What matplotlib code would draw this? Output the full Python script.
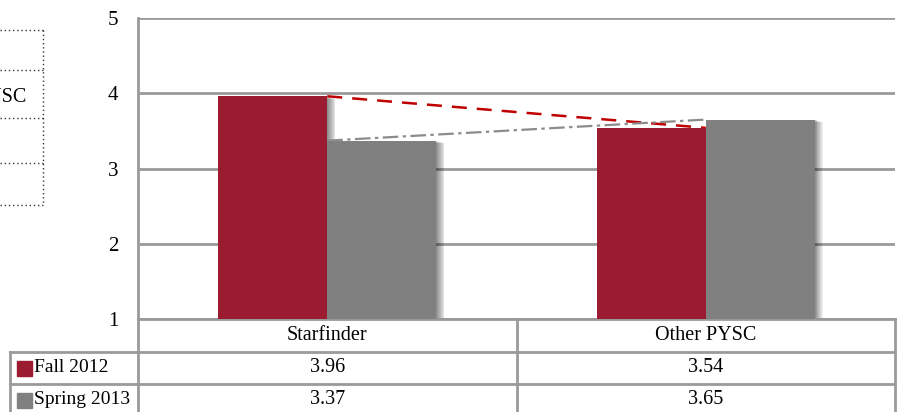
import matplotlib
matplotlib.use("Agg")
from matplotlib import pyplot as plt
from matplotlib.patches import Rectangle
import numpy as np

categories = ["Starfinder", "Other PYSC"]
series_names = ["Fall 2012", "Spring 2013"]
fall = [3.96, 3.54]
spring = [3.37, 3.65]
yticks = [1, 2, 3, 4, 5]

red = "#9b1b30"
grey = "#808080"
linec = "#9a9a9a"

plt.rcParams['font.family'] = ['Liberation Serif', 'DejaVu Serif']
plt.rcParams['font.size'] = 14

W, H = 899, 412
fig = plt.figure(figsize=(W / 100, H / 100), dpi=100)
ax = fig.add_axes([138 / W, (H - 319) / H, (895 - 138) / W, (319 - 18) / H])

x = np.arange(len(categories))
bw = 0.288
px = 2 / (895 - 138)  # one pixel in x data units

# soft shadows behind bars
for off in range(1, 10):
    for vals, sh in ((fall, -bw / 2), (spring, bw / 2)):
        for xi, v in zip(x, vals):
            ax.add_patch(Rectangle((xi + sh - bw / 2 + off * 0.0006, 1),
                                   bw + off * 0.0018, v - 1 - off * 0.004,
                                   color="black", alpha=0.06, lw=0, zorder=1.5))

ax.bar(x - bw / 2, np.array(fall) - 1, bw, bottom=1, color=red, zorder=3)
ax.bar(x + bw / 2, np.array(spring) - 1, bw, bottom=1, color=grey, zorder=3)

# series lines
ax.plot(x, fall, color="#c00000", lw=1.8, ls=(0, (6, 4)), zorder=2)
ax.plot(x, spring, color="#8c8c8c", lw=1.6, ls=(0, (7, 2, 1.5, 2)), zorder=2)

ax.set_xlim(-0.5, 1.5)
ax.set_ylim(1, 5)
ax.set_yticks(yticks)
ax.set_xticks([])
ax.tick_params(axis="y", length=0, pad=14, labelsize=15)
ax.yaxis.grid(True, color=linec, lw=2)
ax.set_axisbelow(True)
for s in ["top", "right", "bottom"]:
    ax.spines[s].set_visible(False)
ax.spines["left"].set_color(linec)
ax.spines["left"].set_linewidth(2)

# data table under the plot
tr = ax.get_xaxis_transform()
ph = 319 - 18
rows = [0, -(352 - 319) / ph, -(384 - 319) / ph, -(416 - 319) / ph]
left = -0.5 - (138 - 10) * px
kw = dict(color=linec, lw=2, transform=tr, clip_on=False)
ax.plot([-0.5, 1.5], [rows[0], rows[0]], **kw)
for r in rows[1:3]:
    ax.plot([left, 1.5], [r, r], **kw)
for xv in [-0.5, 0.5, 1.5]:
    ax.plot([xv, xv], [rows[0], rows[3]], **kw)
ax.plot([left, left], [rows[1], rows[3]], **kw)

for xi, c in zip(x, categories):
    ax.text(xi, (rows[0] + rows[1]) / 2, c, transform=tr, ha="center", va="center", fontsize=14.5)
sq = 15 / ph
for i, (name, vals, col) in enumerate(zip(series_names, [fall, spring], [red, grey])):
    yc = (rows[i + 1] + rows[i + 2]) / 2
    ax.add_patch(Rectangle((left + 7 * px, yc - sq / 2), 15 * px, sq, color=col,
                           transform=tr, clip_on=False))
    ax.text(left + 24 * px, yc, name, transform=tr, ha="left", va="center", fontsize=14)
    for xi, v in zip(x, vals):
        ax.text(xi, yc, f"{v:.2f}", transform=tr, ha="center", va="center", fontsize=14.5)

# cut-off neighbouring table at left edge
ys = [30, 70, 118, 163, 205]
for yy in ys:
    fig.add_artist(plt.Line2D([0, 43 / W], [1 - yy / H] * 2, color="#333333", lw=1, ls=(0, (1, 2))))
fig.add_artist(plt.Line2D([43 / W] * 2, [1 - 30 / H, 1 - 205 / H], color="#333333", lw=1, ls=(0, (1, 2))))
fig.text(26 / W, 1 - 97 / H, "Other PYSC", ha="right", va="center", fontsize=14.5)

fig.savefig("out.png", dpi=100)
